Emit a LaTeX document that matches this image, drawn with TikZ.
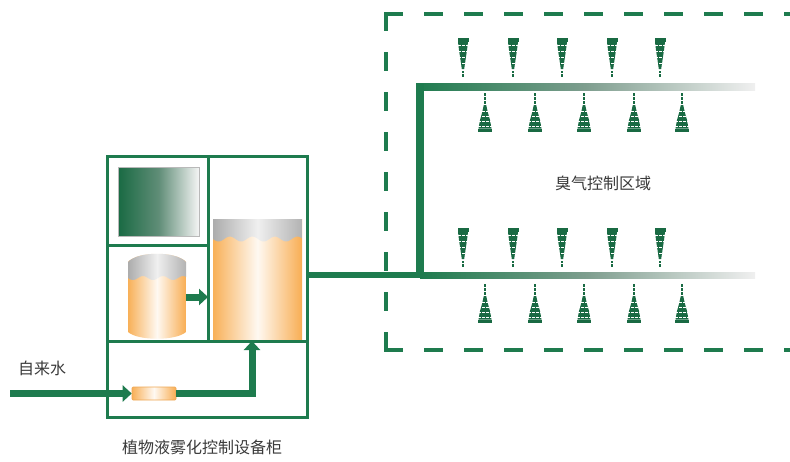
\documentclass[tikz,border=0pt]{standalone}
\usepackage{fontspec}
\newfontfamily\cjk{Noto Sans CJK SC}
\usepackage{xcolor}
\definecolor{dnxanh}{HTML}{1E7B4E}
\definecolor{dnxanhdam}{HTML}{196A43}
\definecolor{dncam}{HTML}{F8B058}
\definecolor{dnchu}{HTML}{3A3A3A}
\def\mauong{dnxanh}
\def\mauvoi{dnxanhdam}
\usetikzlibrary{arrows.meta,calc,positioning}

\begin{document}
\begin{tikzpicture}[x=1pt,y=-1pt,declare function={%
			ytren=87;
			yduoi=275;
			xre=420;
			xcuoi=755;
		}
		]%
		\tikzset{
			ong/.style={draw=\mauong,line width=7pt},
			muiten/.style={-{Triangle[length=9pt,width=16pt]}},
			vienvung/.style={draw=\mauong,line width=4pt,dash pattern=on 19pt off 21pt},
			vientu/.style={draw=\mauong,line width=3pt},
			chu/.style={font=\cjk\fontsize{16}{16}\selectfont,text=dnchu,inner sep=0pt},
			bongcam/.style={left color=dncam,right color=dncam!95!orange,middle color=dncam!8},
			bongxam/.style={left color=gray!65,right color=gray!60,middle color=gray!12},
			voixuong/.pic={%
				\fill[\mauvoi] (-5.5,0) rectangle (5.5,3.5);
				\fill[\mauvoi] (-5,4) -- (5,4) -- (4,12) -- (2.5,22) -- (1.2,31) -- (-1.2,31) -- (-2.5,22) -- (-4,12) -- cycle;
				\foreach \h in {7,13,19,25}{%
					\draw[white,line width=0.5pt,dash pattern=on 3pt off 1pt] (-5,\h) -- (5,\h);
				}
				\foreach \h in {32.5,36}{%
					\fill[\mauvoi] (-0.9,\h) rectangle (0.9,\h+2.5);
				}
			},
			voilen/.pic={%
				\fill[\mauvoi] (-7,-3) rectangle (7,0);
				\fill[\mauvoi] (-6.5,-3.5) -- (6.5,-3.5) -- (5,-12) -- (3,-19) -- (1.2,-27) -- (-1.2,-27) -- (-3,-19) -- (-5,-12) -- cycle;
				\foreach \h in {-6,-11,-16,-21}{%
					\draw[white,line width=0.5pt,dash pattern=on 3pt off 1pt] (-7,\h) -- (7,\h);
				}
				\foreach \h in {-31,-35,-39}{%
					\fill[\mauvoi] (-0.9,\h) rectangle (0.9,\h+2.5);
				}
			}
		}
		\useasboundingbox (0,0) rectangle (790,461);
		%% vung khu mui
		\draw[vienvung] (384,14) -- (790,14);
		\draw[vienvung] (386,12) -- (386,352);
		\draw[vienvung] (384,350) -- (790,350);
		\node[chu] (vung) at (603,183) {臭气控制区域};
		%% ong phan phoi
		\coordinate (tu) at (307,yduoi);
		\coordinate (nga) at (xre,yduoi);
		\coordinate (goc) at (xre,ytren-3.5);
		\shade[left color=\mauong,right color=gray!12,middle color=\mauong!45!gray!75] (xre-4,ytren-3.5) rectangle (xcuoi,ytren+3.5);
		\shade[left color=\mauong,right color=gray!12,middle color=\mauong!45!gray!75] (xre,yduoi-3) rectangle (xcuoi,yduoi+3);
		\draw[ong,line width=6pt] (tu) -- (nga);
		\draw[ong,line width=8pt] (nga) -- (goc);
		%% voi phun
		\foreach \nx in {463,513,562,612,660}{%
			\path (\nx,38) pic {voixuong};
			\path (\nx,228) pic {voixuong};
			\path (\nx+22,132) pic {voilen};
			\path (\nx+22,323) pic {voilen};
		}
		%%% tu dieu khien
		\draw[vientu] (107,156) rectangle (307,417);
		\draw[vientu] (208,156) -- (208,341);
		\draw[vientu] (107,245) -- (208,245);
		\draw[vientu] (107,341) -- (307,341);
		\shade[left color=\mauvoi,right color=gray!8,middle color=\mauvoi!70!gray!80,draw=gray!55,line width=0.6pt] (118,167) rectangle (199,236);
		%% binh nho
		\begin{scope}
			\clip (128,332) -- (128,262) .. controls (138,251) and (176,251) .. (186,262) -- (186,332) .. controls (176,341) and (138,341) .. (128,332) -- cycle;
			\shade[bongcam] (128,250) rectangle (186,342);
			\shade[bongxam] (128,250) -- (186,250) -- (186,277) -- plot[domain=186:128,samples=40] (\x,{278+2*sin((\x-128)*18)}) -- cycle;
		\end{scope}
		%% binh lon
		\shade[bongcam] (213,219) rectangle (302,339);
		\shade[bongxam] (213,219) -- (302,219) -- (302,238) -- plot[domain=302:213,samples=50] (\x,{239+2.5*sin((\x-213)*16)}) -- cycle;
		%% duong nuoc
		\node[draw=dncam!80!brown,line width=0.6pt,rounded corners=1pt,bongcam,minimum width=44pt,minimum height=13pt,inner sep=0pt] (loc) at (154,393.5) {};
		\coordinate (nuocvao) at (10,393.5);
		\coordinate (daybinh) at (252,341);
		\coordinate (rabinh) at (186,297);
		\coordinate (vaobinh) at (208,297);
		\draw[ong,muiten] (nuocvao) -- (loc.west);
		\draw[ong,muiten] (loc.east) -| (daybinh);
		\draw[ong,muiten] (rabinh) -- (vaobinh);
		\node[chu] (nuoc) at (42,368) {自来水};
		\node[chu] (tentu) at (202,447) {植物液雾化控制设备柜};
\end{tikzpicture}
\end{document}
